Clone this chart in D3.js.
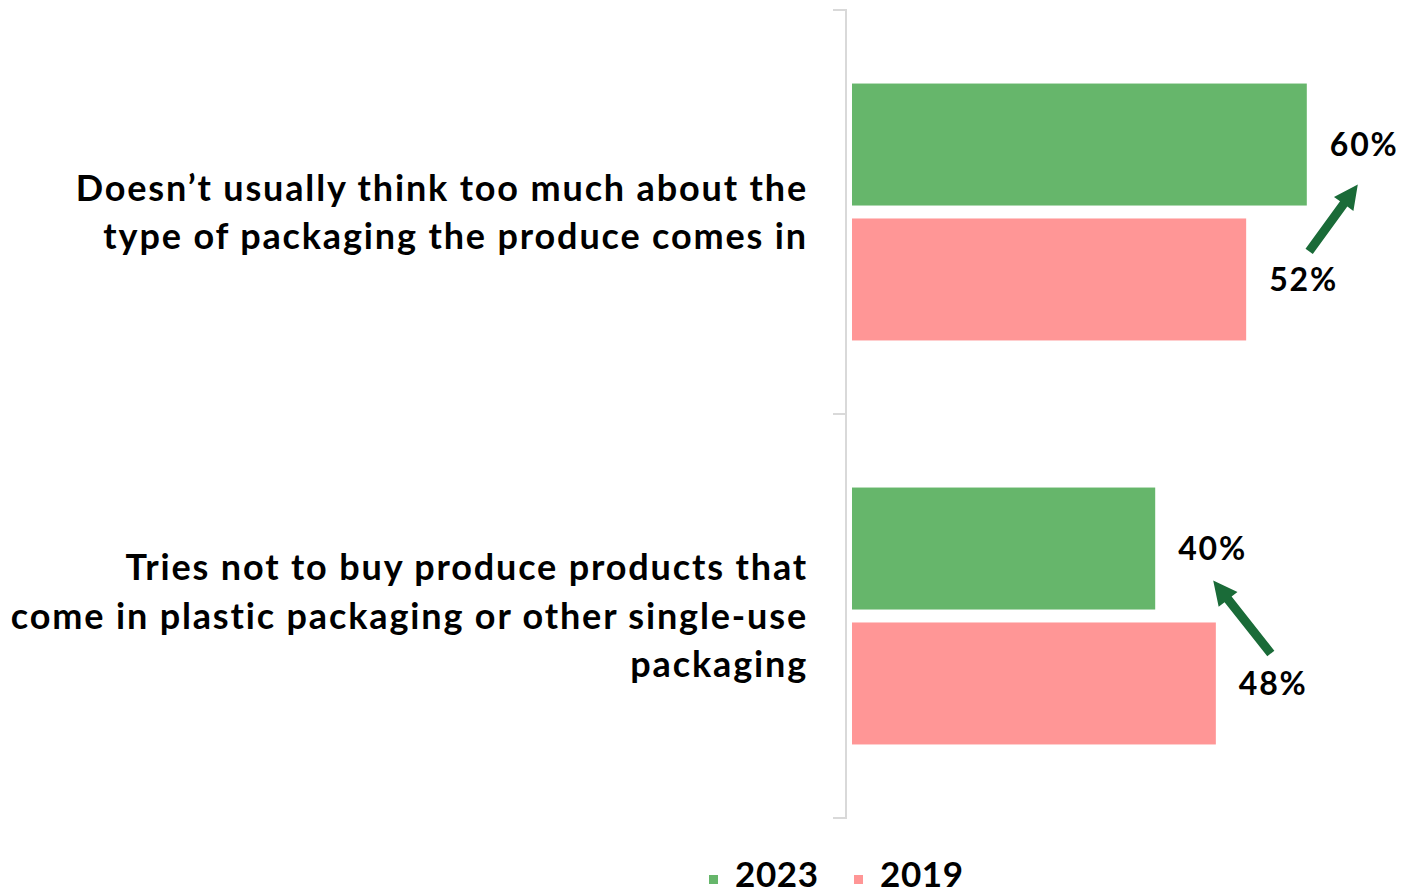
<!DOCTYPE html>
<html>
<head>
<meta charset="utf-8">
<script src="https://cdn.jsdelivr.net/npm/d3@7"></script>
<style>
  html, body { margin: 0; padding: 0; background: #ffffff; }
  svg { display: block; font-family: "Lato", "Open Sans", sans-serif; font-weight: 700; }
</style>
</head>
<body>
<svg id="chart" width="1404" height="895"></svg>
<script>
// Survey statements (each split into display lines)
const categories = ["think", "plastic"];
const categoryLines = [
  ["Doesn\u2019t usually think too much about the", "type of packaging the produce comes in"],
  ["Tries not to buy produce products that", "come in plastic packaging or other single-use", "packaging"]
];
const seriesNames = ["2023", "2019"];
const values2023 = [60, 40];
const values2019 = [52, 48];
const seriesColors = ["#66b66b", "#ff9696"];

const svg = d3.select("#chart");

const x = d3.scaleLinear().domain([0, 100]).range([852, 1610]);
const y = d3.scaleBand().domain(categories).range([10, 818]);
const ySeries = d3.scaleBand().domain(seriesNames)
  .range([0, y.bandwidth()]).paddingInner(0.096).paddingOuter(0.545);

const rows = categories.map((c, i) => ({
  cat: c,
  lines: categoryLines[i],
  bars: [
    { series: "2023", value: values2023[i], color: seriesColors[0] },
    { series: "2019", value: values2019[i], color: seriesColors[1] }
  ]
}));

// Vertical axis with ticks at band boundaries
const axisX = 846;
const axisColor = "#d9d9d9";
const g = svg.append("g");
g.append("line")
  .attr("x1", axisX).attr("x2", axisX)
  .attr("y1", y.range()[0]).attr("y2", y.range()[1])
  .attr("stroke", axisColor).attr("stroke-width", 2);
const tickYs = categories.map(c => y(c)).concat([y.range()[1]]);
g.selectAll("line.tick").data(tickYs).join("line")
  .attr("class", "tick")
  .attr("x1", axisX - 13).attr("x2", axisX + 1)
  .attr("y1", d => d).attr("y2", d => d)
  .attr("stroke", axisColor).attr("stroke-width", 2);

// Bars
const groups = svg.selectAll("g.row").data(rows).join("g")
  .attr("class", "row")
  .attr("transform", d => `translate(0,${y(d.cat)})`);

groups.selectAll("rect").data(d => d.bars).join("rect")
  .attr("x", x(0))
  .attr("y", d => ySeries(d.series))
  .attr("width", d => x(d.value) - x(0))
  .attr("height", ySeries.bandwidth())
  .attr("fill", d => d.color);

// Value labels
groups.selectAll("text.val").data(d => d.bars).join("text")
  .attr("class", "val")
  .attr("x", d => x(d.value) + 23)
  .attr("y", d => ySeries(d.series) + ySeries.bandwidth() / 2)
  .attr("dy", "0.36em")
  .attr("font-size", 32)
  .attr("letter-spacing", 1.8)
  .attr("fill", "#000")
  .text(d => d.value + "%");

// Category labels, right aligned against the axis
const lineH = 48.5;
groups.append("text")
  .attr("text-anchor", "end")
  .attr("font-size", 36)
  .attr("letter-spacing", 1.85)
  .attr("fill", "#000")
  .selectAll("tspan").data(d => d.lines.map((t, i) => ({ t, i, n: d.lines.length })))
  .join("tspan")
  .attr("x", 808)
  .attr("y", d => y.bandwidth() / 2 + (d.i - (d.n - 1) / 2) * lineH)
  .attr("dy", "0.36em")
  .text(d => d.t);

// Trend arrows from the 2019 value towards the 2023 value
const arrowColor = "#1a6b38";
function arrow(x1, y1, x2, y2) {
  const ang = Math.atan2(y2 - y1, x2 - x1);
  const len = Math.hypot(x2 - x1, y2 - y1);
  const headL = 24, headW = 12, shaftW = 4.5;
  const pts = [
    [0, -shaftW], [len - headL, -shaftW], [len - headL, -headW],
    [len, 0], [len - headL, headW], [len - headL, shaftW], [0, shaftW]
  ];
  svg.append("polygon")
    .attr("points", pts.map(p => p.join(",")).join(" "))
    .attr("fill", arrowColor)
    .attr("transform", `translate(${x1},${y1}) rotate(${ang * 180 / Math.PI})`);
}
rows.forEach(r => {
  const top = y(r.cat);
  const c23 = top + ySeries("2023") + ySeries.bandwidth() / 2;
  const c19 = top + ySeries("2019") + ySeries.bandwidth() / 2;
  const lx23 = x(r.bars[0].value) + 23;
  const lx19 = x(r.bars[1].value) + 23;
  if (r.bars[0].value > r.bars[1].value) {
    arrow(lx19 + 40, c19 - 28, lx23 + 28, c23 + 40);
  } else {
    arrow(lx19 + 32, c19 - 30, lx23 + 35, c23 + 32);
  }
});

// Legend
const legend = svg.append("g").attr("transform", "translate(709,875)");
const legendItems = legend.selectAll("g").data(seriesNames).join("g")
  .attr("transform", (d, i) => `translate(${i * 145},0)`);
legendItems.append("rect")
  .attr("width", 9).attr("height", 9)
  .attr("fill", (d, i) => seriesColors[i]);
legendItems.append("text")
  .attr("x", 26).attr("y", 12)
  .attr("font-size", 35)
  .attr("letter-spacing", 0.6)
  .attr("fill", "#000")
  .text(d => d);
</script>
</body>
</html>
